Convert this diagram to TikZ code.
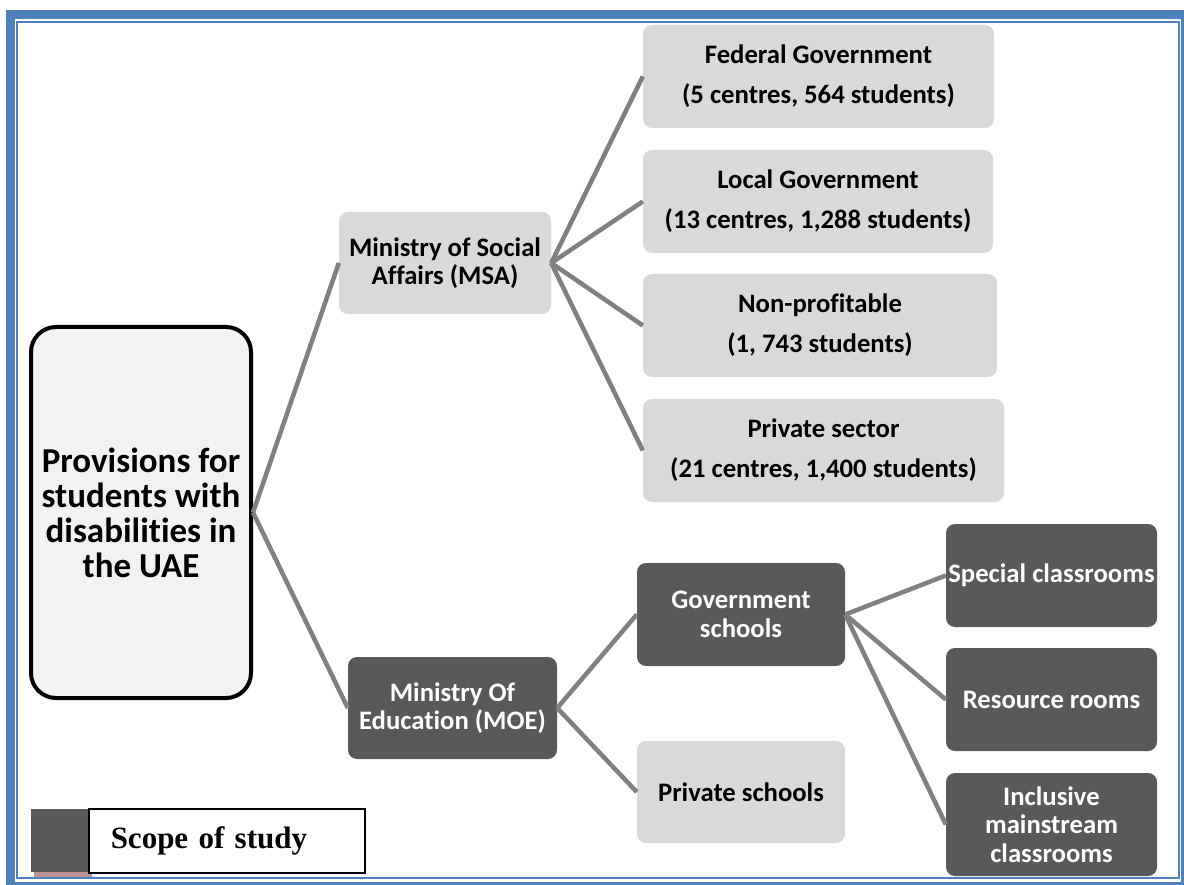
\documentclass[tikz,border=0pt]{standalone}
\usepackage{fontspec}
\setmainfont[RawFeature=-liga]{Carlito}
\newfontfamily\scopefont{Liberation Serif}
\definecolor{frameblue}{RGB}{79,129,189}
\definecolor{lightbox}{RGB}{217,217,217}
\definecolor{darkbox}{RGB}{89,89,89}
\definecolor{rootbox}{RGB}{242,242,242}
\definecolor{linkgrey}{RGB}{128,128,128}
\definecolor{shadowpink}{RGB}{185,145,145}

\begin{document}
\begin{tikzpicture}[x=1pt, y=-1pt,
  box/.style={rounded corners=9pt, inner sep=0pt, align=center,
    font=\fontsize{26.7}{28.5}\selectfont\bfseries},
  light/.style={box, fill=lightbox, text=black},
  dark/.style={box, fill=darkbox, text=white},
  tall/.style={font=\fontsize{26.7}{40}\selectfont\bfseries},
  link/.style={draw=linkgrey, line width=4.5pt}]

\useasboundingbox [fill=white] (0,0) rectangle (1184,885) ;

% page frame
\fill [frameblue] (6,10) rectangle (1184,885) ;
\fill [white] (15,19) rectangle (1181.3,882.3) ;
\draw [frameblue, line width=2.2pt] (17,21.8) rectangle (1179,878.3) ;

\node [box, draw=black, fill=rootbox, line width=4pt, rounded corners=25pt,
  minimum width=220pt, minimum height=371pt,
  font=\fontsize{35}{35}\selectfont\bfseries] (root) at (141,512.5)
  {Provisions for\\students with\\disabilities in\\the UAE} ;

\node [light, minimum width=212pt, minimum height=102pt] (msa) at (445,263)
  {Ministry of Social\\Affairs (MSA)} ;
\node [dark, minimum width=209pt, minimum height=102pt] (moe) at (452.5,708)
  {Ministry Of\\Education (MOE)} ;

\node [light, tall, minimum width=351pt, minimum height=103pt] (fed) at (818.5,76.5)
  {Federal Government\\(5 centres, 564 students)} ;
\node [light, tall, minimum width=350pt, minimum height=103pt] (loc) at (818,201.5)
  {Local Government\\(13 centres, 1,288 students)} ;
\node [light, tall, minimum width=354pt, minimum height=103pt] (nonp) at (820,325.5)
  {Non-profitable\\(1, 743 students)} ;
\node [light, tall, minimum width=361pt, minimum height=103pt] (priv) at (823.5,450.5)
  {Private sector\\(21 centres, 1,400 students)} ;

\node [dark, minimum width=208pt, minimum height=103pt] (gov) at (741,614.5)
  {Government\\schools} ;
\node [light, minimum width=208pt, minimum height=102pt] (pschool) at (741,792)
  {Private schools} ;

\node [dark, minimum width=211pt, minimum height=103pt] (spec) at (1051.5,575.5)
  {Special classrooms} ;
\node [dark, minimum width=211pt, minimum height=103pt] (res) at (1051.5,699.5)
  {Resource rooms} ;
\node [dark, minimum width=211pt, minimum height=103pt] (incl) at (1051.5,824.5)
  {Inclusive\\mainstream\\classrooms} ;

% connectors
\draw [link] (root.east) to (msa.west) ;
\draw [link] (root.east) to (moe.west) ;
\foreach \n in {fed,loc,nonp,priv}
  \draw [link] (msa.east) to (\n.west) ;
\draw [link] (moe.east) to (gov.west) ;
\draw [link] (moe.east) to (pschool.west) ;
\foreach \n in {spec,res,incl}
  \draw [link] (gov.east) to (\n.west) ;

% legend
\fill [shadowpink] (34,872) rectangle (92,877) ;
\fill [darkbox] (31,809) rectangle (88,872) ;
\node [draw=black, line width=1.5pt, anchor=north west, minimum width=276pt,
  minimum height=64pt, text width=232pt, inner xsep=22pt, align=left,
  font=\scopefont\fontsize{31}{33}\selectfont\bfseries] (scope) at (88,808)
  {Scope of study} ;

\end{tikzpicture}
\end{document}
